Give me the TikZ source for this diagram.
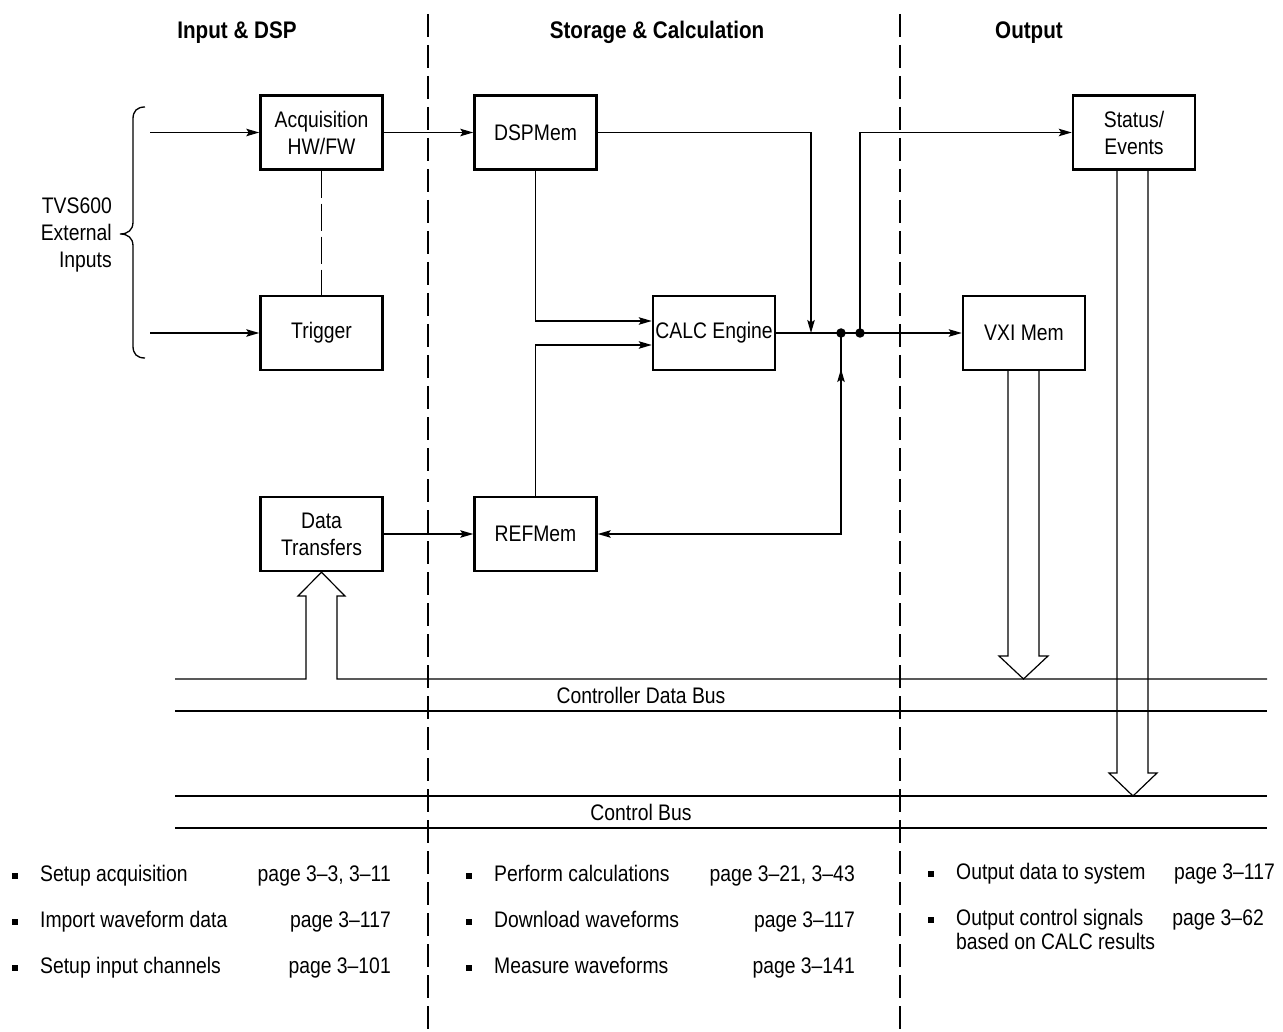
\documentclass[tikz,border=0pt]{standalone}
\usepackage{fontspec}
\setmainfont{Liberation Sans}[FakeStretch=0.86]
\usetikzlibrary{arrows.meta,calc}
\begin{document}
\begin{tikzpicture}[x=1pt,y=-1pt,
  font=\fontsize{22.5}{27}\selectfont,
  blk/.style={draw,line width=2.5pt,minimum width=122pt,minimum height=74pt,align=center,inner sep=0pt},
  wire/.style={line width=1.3pt},
  arr/.style={wire,-{Stealth[length=13pt,width=7.5pt,inset=2.5pt]}},
  bus/.style={line width=1.2pt},
  divider/.style={line width=1.2pt,dash pattern=on 23pt off 8pt},
  linkdash/.style={wire,dash pattern=on 27pt off 6pt},
  title/.style={font=\fontsize{24}{27}\selectfont\bfseries,anchor=base,inner sep=0pt},
  dot/.style={circle,fill,inner sep=0pt,minimum size=9.5pt},
  itemtext/.style={anchor=base west,inner sep=0pt},
  pagetext/.style={anchor=base east,inner sep=0pt},
  bullet/.style={fill,minimum width=6pt,minimum height=6.5pt,inner sep=0pt}
]
\useasboundingbox (0,0) rectangle (1283,1032);

% column separators
\draw[divider] (428,14) -- (428,1032);
\draw[divider] (900,14) -- (900,1032);

% column titles
\node[title] at (237,39) {Input \& DSP};
\node[title] at (657,39) {Storage \& Calculation};
\node[title] at (1029,39) {Output};

% blocks
\node[blk] (acq)  at (321.5,132.5) {Acquisition\\HW/FW};
\node[blk] (trig) at (321.5,333)   {Trigger};
\node[blk] (dt)   at (321.5,534)   {Data\\Transfers};
\node[blk] (dsp)  at (535.5,132.5) {DSPMem};
\node[blk] (calc) at (714,333)     {CALC Engine};
\node[blk] (ref)  at (535.5,534)   {REFMem};
\node[blk] (stat) at (1134,132.5)  {Status/\\Events};
\node[blk] (vxi)  at (1024,333)    {VXI Mem};

% external inputs with brace
\node[anchor=east,align=right,inner sep=0pt] (ext) at (112,235) {TVS600\\External\\Inputs};
\draw[wire] (145,107) .. controls (137,107) and (133,111) .. (133,119) -- (133,222)
  .. controls (133,230) and (128,234) .. (120,234)
  .. controls (128,234) and (133,238) .. (133,246) -- (133,346)
  .. controls (133,354) and (137,358) .. (145,358);
\coordinate (inA) at (150,132.5);
\coordinate (inT) at (150,333);
\draw[arr] (inA) -- (acq.west);
\draw[arr] (inT) -- (trig.west);
\draw[linkdash] (acq.south) -- (trig.north);

% data paths
\coordinate (drop) at (811,333);
\coordinate (jr) at (841,333);
\coordinate (js) at (860,333);
\draw[arr] (acq.east) -- (dsp.west);
\draw[arr] (dsp.east) -| (drop);
\draw[arr] (dsp.south) |- ([yshift=12pt]calc.west);
\draw[arr] (ref.north) |- ([yshift=-12pt]calc.west);
\draw[arr] (calc.east) -- (vxi.west);
\draw[arr] (js) |- (stat.west);
\draw[arr] (jr) |- (ref.east);
\draw[arr] ([yshift=-60pt]jr) -- ([yshift=-36pt]jr);
\draw[arr] (dt.east) -- (ref.west);
\node[dot] at (jr) {};
\node[dot] at (js) {};

% controller data bus with the hollow arrow into Data Transfers
\draw[bus] (175,679) -- (306,679) -- (306,596) -- (298,596) -- (dt.south)
  -- (345,596) -- (337,596) -- (337,679) -- (1267,679);
\draw[bus] (175,711) -- (1267,711);
\node[inner sep=0pt] (cdb) at (641,695) {Controller Data Bus};

% control bus
\draw[bus] (175,796) -- (1267,796);
\draw[bus] (175,828) -- (1267,828);
\node[inner sep=0pt] (cb) at (641,812) {Control Bus};

% hollow arrow from VXI Mem to controller data bus
\draw[bus] ([xshift=-16pt]vxi.south) -- (1008,656) -- (999,656) -- (1023.5,679)
  -- (1048,656) -- (1039,656) -- ([xshift=15pt]vxi.south);

% hollow arrow from Status/Events to control bus
\draw[bus] ([xshift=-17pt]stat.south) -- (1117,773) -- (1109,773) -- (1133,796)
  -- (1157,773) -- (1148,773) -- ([xshift=14pt]stat.south);

% task lists
\node[bullet] at (15,876) {};
\node[itemtext] at (40,881) {Setup acquisition};
\node[pagetext] at (391,881) {page 3–3, 3–11};
\node[bullet] at (15,922) {};
\node[itemtext] at (40,927) {Import waveform data};
\node[pagetext] at (391,927) {page 3–117};
\node[bullet] at (15,968) {};
\node[itemtext] at (40,973) {Setup input channels};
\node[pagetext] at (391,973) {page 3–101};

\node[bullet] at (469,876) {};
\node[itemtext] at (494,881) {Perform calculations};
\node[pagetext] at (855,881) {page 3–21, 3–43};
\node[bullet] at (469,922) {};
\node[itemtext] at (494,927) {Download waveforms};
\node[pagetext] at (855,927) {page 3–117};
\node[bullet] at (469,968) {};
\node[itemtext] at (494,973) {Measure waveforms};
\node[pagetext] at (855,973) {page 3–141};

\node[bullet] at (931,874) {};
\node[itemtext] at (956,879) {Output data to system};
\node[pagetext] at (1275,879) {page 3–117};
\node[bullet] at (931,920) {};
\node[itemtext] at (956,925) {Output control signals};
\node[pagetext] at (1264,925) {page 3–62};
\node[itemtext] at (956,949) {based on CALC results};
\end{tikzpicture}
\end{document}
